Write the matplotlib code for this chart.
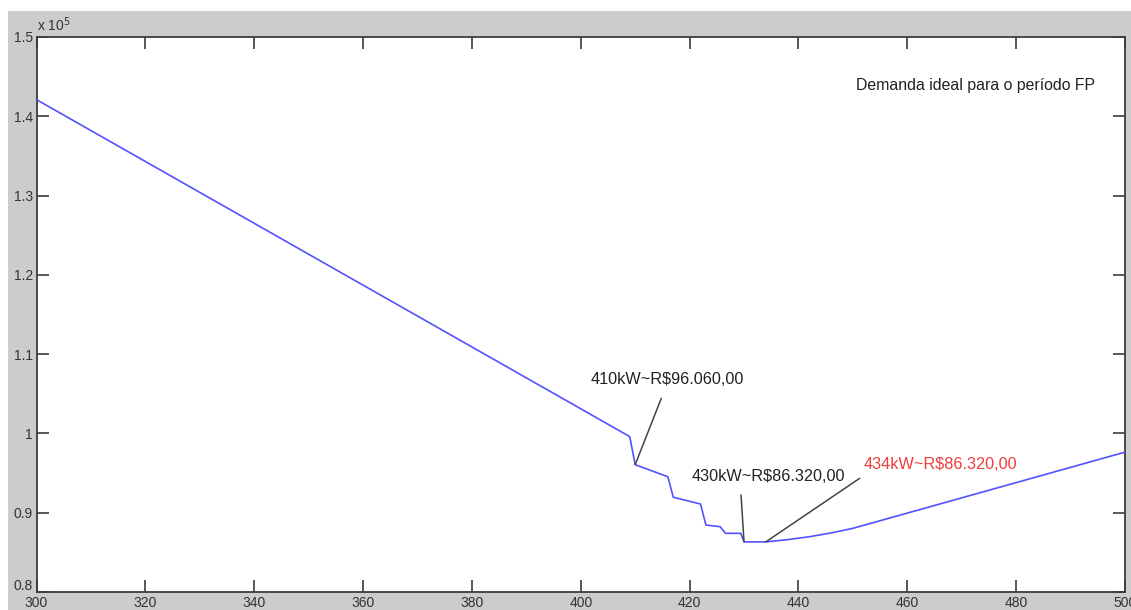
import matplotlib
matplotlib.use("Agg")
import matplotlib.pyplot as plt
from matplotlib.patches import Rectangle
from matplotlib.ticker import FuncFormatter, MultipleLocator

# Demand (kW) versus total cost (R$) for the off-peak (FP) period
demanda_kw = [300, 409, 410, 416, 417, 422, 423, 425.6, 426.6, 429.4, 430, 434,
              438, 442, 446, 450, 500]
custo_rs = [142100, 99600, 96060, 94540, 91950, 91100, 88450, 88240, 87400, 87400,
            86320, 86320, 86600, 86970, 87450, 88030, 97640]

# Highlighted points: (demand, cost, label, colour, text position, leader start)
destaques = [
    (410, 96060, "410kW~R$96.060,00", "#222222", (401.9, 106740), (414.8, 104430)),
    (430, 86320, "430kW~R$86.320,00", "#222222", (420.3, 94630), (429.45, 92230)),
    (434, 86320, "434kW~R$86.320,00", "#f03c3c", (451.9, 96020), (451.25, 94340)),
]
titulo = "Demanda ideal para o período FP"

y_min, y_max = 80000, 150000

plt.rcParams["font.family"] = ["Liberation Sans", "DejaVu Sans"]

W, H = 1131, 610
fig = plt.figure(figsize=(W / 100, H / 100), dpi=100, facecolor="white")
fig.patches.append(Rectangle((8 / W, 0), 1 - 8 / W, (H - 11) / H,
                             transform=fig.transFigure, facecolor="#cccccc",
                             edgecolor="none", zorder=-10))

ax = fig.add_axes([36.5 / W, (H - 592) / H, (1125 - 36.5) / W, (592 - 37) / H])
ax.set_facecolor("white")

ax.plot(demanda_kw, custo_rs, color="#5252ff", lw=1.2, zorder=3)

for x, y, label, cor, (tx, ty), (lx, ly) in destaques:
    ax.annotate("", xy=(x, y), xytext=(lx, ly),
                arrowprops=dict(arrowstyle="-", color="#444444", lw=1.1,
                                shrinkA=0, shrinkB=0), zorder=4)
    ax.text(tx, ty, label, color=cor, fontsize=11.7, ha="left", va="center",
            parse_math=False, zorder=5)

ax.text(450.5, 143940, titulo, fontsize=11.4, color="#222222", ha="left", va="center")

ax.set_xlim(300, 500)
ax.set_ylim(y_min, y_max)
ax.xaxis.set_major_locator(MultipleLocator(20))
ax.yaxis.set_major_locator(MultipleLocator(10000))


def fmt_y(v, pos):
    # the bottom label is drawn separately, nudged up above the x labels
    return "" if abs(v - y_min) < 1 else f"{v / 1e5:g}"


ax.yaxis.set_major_formatter(FuncFormatter(fmt_y))
ax.annotate(f"{y_min / 1e5:g}", xy=(0, y_min), xycoords=("axes fraction", "data"),
            xytext=(-2.5, 4), textcoords="offset points", ha="right", va="center",
            fontsize=10, color="#333333", annotation_clip=False)

for s in ax.spines.values():
    s.set_color("#3c3c3c")
    s.set_linewidth(1.3)
ax.tick_params(direction="in", length=8.4, width=1.2, color="#3c3c3c",
               labelcolor="#333333", labelsize=10, top=True, right=True)
ax.tick_params(axis="x", pad=3.2)
ax.tick_params(axis="y", pad=2.5)

fig.text(37 / W, 1 - 25 / H, r"x 10$^5$", fontsize=10, color="#333333",
         ha="left", va="center")

fig.savefig("out.png", dpi=100, facecolor=fig.get_facecolor())
